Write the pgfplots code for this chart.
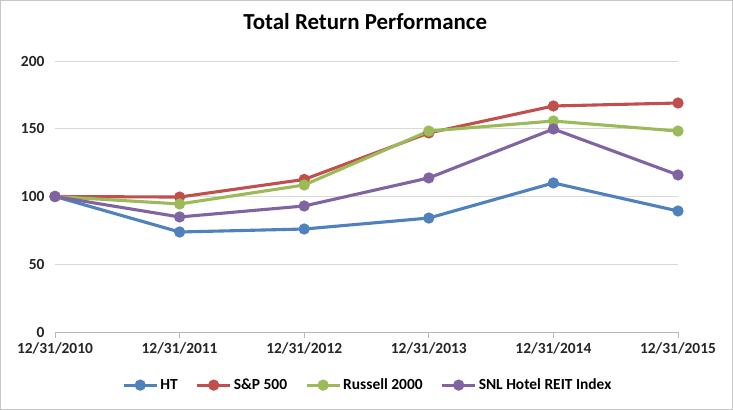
\documentclass[border=0pt]{standalone}
\usepackage{pgfplots}
\pgfplotsset{compat=1.18}
\usepackage{fontspec}
\setmainfont{Carlito}
\definecolor{htblue}{RGB}{79,129,189}
\definecolor{spred}{RGB}{192,80,77}
\definecolor{rugreen}{RGB}{155,187,89}
\definecolor{snlpurple}{RGB}{128,100,162}
\begin{document}
\begin{tikzpicture}
\useasboundingbox (-55bp,-78bp) rectangle (678bp,332bp);
\fill[white] (-55bp,-78bp) rectangle (678bp,332bp);
\draw[gray!45, line width=0.8bp] (-54.6bp,-77.6bp) rectangle (677.6bp,331.6bp);
\begin{axis}[
    at={(0,0)}, anchor=south west,
    scale only axis,
    width=623bp, height=271bp,
    xmin=0, xmax=5, ymin=0, ymax=200,
    xtick={0,1,2,3,4,5},
    xticklabels={12/31/2010,12/31/2011,12/31/2012,12/31/2013,12/31/2014,12/31/2015},
    ytick={0,50,100,150,200},
    axis x line*=bottom,
    axis y line*=left,
    y axis line style={draw=none},
    x axis line style={draw=gray!55, line width=0.8bp},
    ytick style={draw=none},
    xtick style={draw=gray!55, line width=0.8bp},
    tick align=outside,
    major tick length=6bp,
    ymajorgrids,
    grid style={draw=gray!30, line width=0.8bp},
    /pgf/number format/assume math mode=true,
    ticklabel style={font=\bfseries\fontsize{15.5}{17}\selectfont, text=black!85},
    yticklabel style={xshift=-1bp},
    xticklabel style={yshift=-1bp},
    title={Total Return Performance},
    title style={at={(0.498,1)}, anchor=center, yshift=33bp, font=\bfseries\fontsize{23}{26}\selectfont},
    legend style={at={(0.502,-0.196)}, anchor=center, draw=none, fill=none,
        legend columns=4, font=\bfseries\fontsize{15.5}{17}\selectfont,
        /tikz/every even column/.append style={column sep=16bp}},
    legend cell align=left,
    legend image code/.code={\draw[mark repeat=2,mark phase=2,#1] plot coordinates {(0bp,0bp)(16.5bp,0bp)(33bp,0bp)};},
    every axis plot/.append style={line width=3.1bp, mark=*, mark size=4bp, mark options={solid}},
    clip=false,
]
\addplot[color=htblue] coordinates {(0,100) (1,73.8) (2,76) (3,84.1) (4,110) (5,89.3)};
\addlegendentry{HT}
\addplot[color=spred] coordinates {(0,100) (1,99.6) (2,112.6) (3,146.9) (4,166.8) (5,169)};
\addlegendentry{S\&P 500}
\addplot[color=rugreen] coordinates {(0,100) (1,94.5) (2,108.5) (3,148.3) (4,155.7) (5,148.3)};
\addlegendentry{Russell 2000}
\addplot[color=snlpurple] coordinates {(0,100) (1,84.9) (2,93) (3,113.7) (4,149.8) (5,115.9)};
\addlegendentry{SNL Hotel REIT Index}
\end{axis}
\end{tikzpicture}
\end{document}
